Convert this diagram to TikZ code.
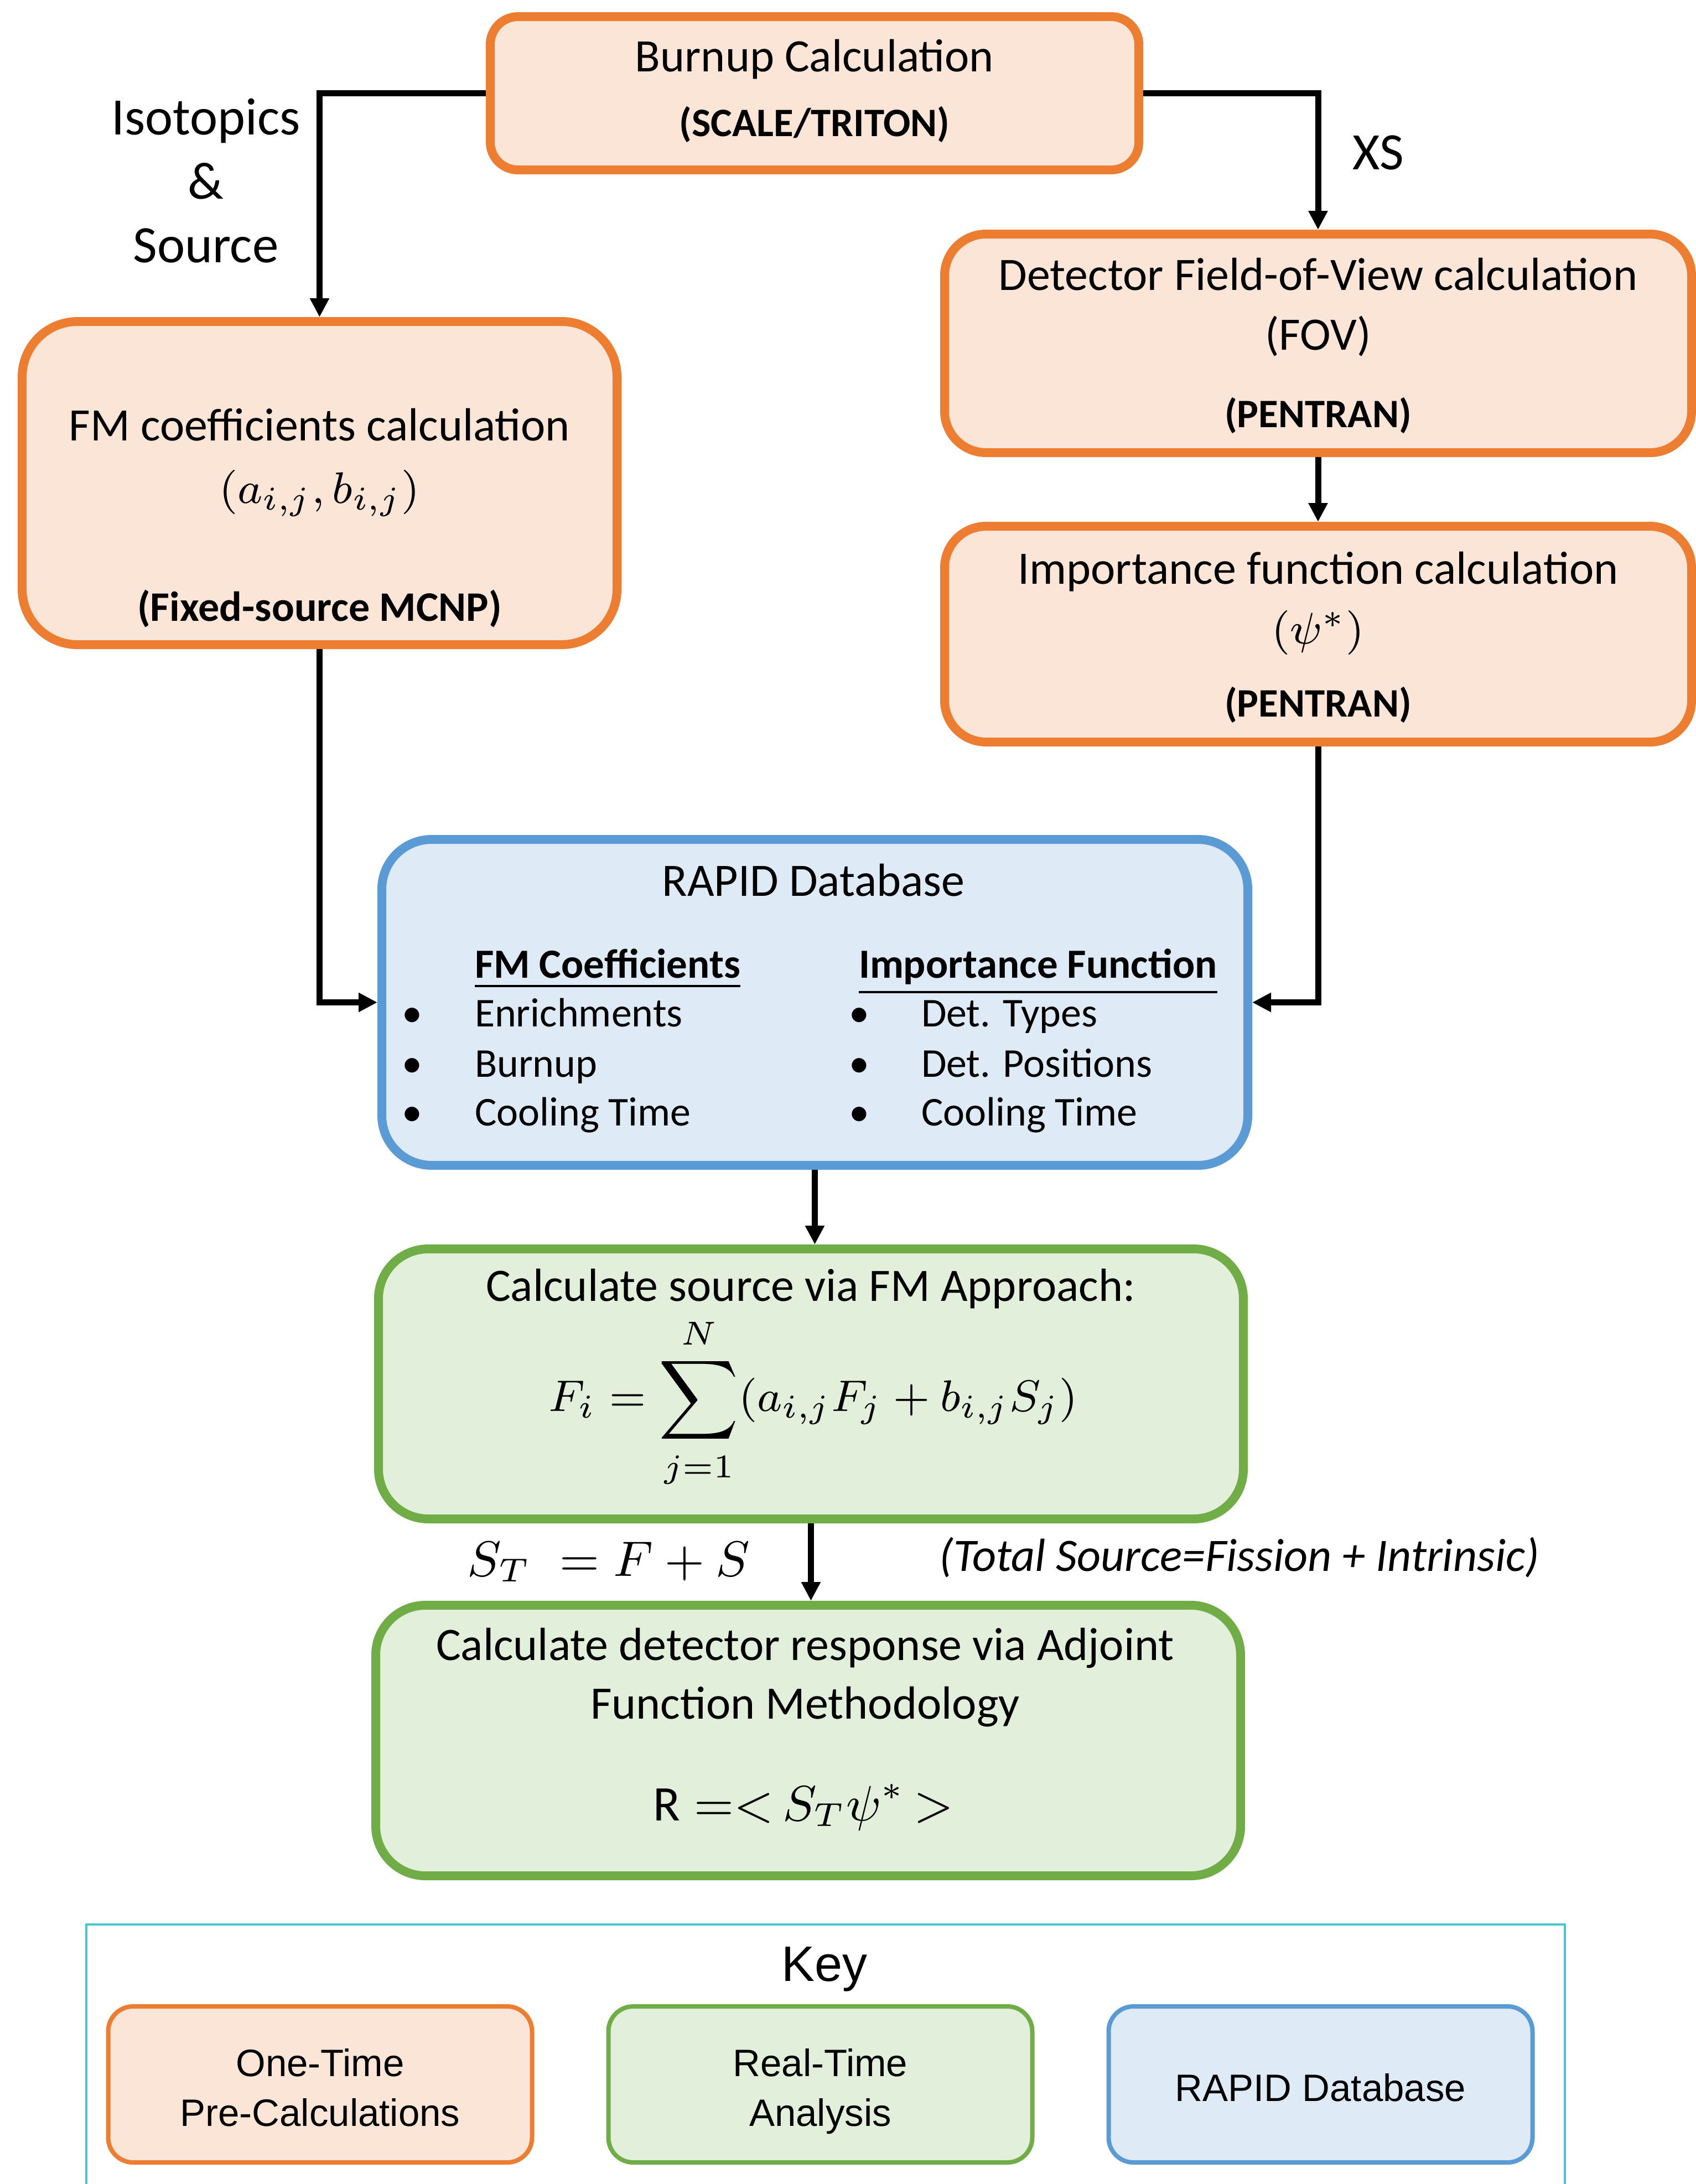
\documentclass[tikz,border=0pt]{standalone}
\usepackage{fontspec}
\setmainfont{Carlito}
\newfontfamily\keyfont{Liberation Sans}
\usetikzlibrary{arrows.meta}
\definecolor{orB}{HTML}{ED7D31}
\definecolor{orF}{HTML}{FBE5D6}
\definecolor{grB}{HTML}{70AD47}
\definecolor{grF}{HTML}{E2EFDA}
\definecolor{blB}{HTML}{5B9BD5}
\definecolor{blF}{HTML}{DEEBF7}
\definecolor{keyB}{HTML}{4BC6D0}
\begin{document}
\begin{tikzpicture}[x=1pt,y=-1pt,
  box/.style={draw, line width=1.6pt, inner sep=0pt},
  obox/.style={box, draw=orB, fill=orF},
  gbox/.style={box, draw=grB, fill=grF},
  bbox/.style={box, draw=blB, fill=blF},
  kbox/.style={draw, line width=0.8pt, inner sep=0pt, rounded corners=4.5pt, minimum width=76.6pt, minimum height=28.2pt},
  txt/.style={inner sep=0pt, anchor=base, font=\fontsize{8.4}{10}\selectfont},
  stxt/.style={inner sep=0pt, anchor=base west, font=\fontsize{7.4}{9}\selectfont},
  dot/.style={inner sep=0pt, anchor=base, font=\fontsize{7.4}{9}\selectfont},
  btxt/.style={inner sep=0pt, anchor=base, font=\fontsize{7.3}{9}\selectfont\bfseries},
  ltxt/.style={inner sep=0pt, anchor=base, font=\fontsize{9.5}{11}\selectfont},
  ktxt/.style={inner sep=0pt, anchor=base, font=\fontsize{6.9}{8}\keyfont},
  conn/.style={line width=1.1pt, -{Triangle[length=3.4pt,width=3.3pt]}}
]
\clip (0,0) rectangle (306.5,394.7);
\useasboundingbox (0,0) rectangle (306.5,394.7);

% boxes
\node[obox, rounded corners=5pt, minimum width=117.2pt, minimum height=27.7pt] (burn) at (147.2,16.85) {};
\node[obox, rounded corners=7.5pt, minimum width=135.0pt, minimum height=39.5pt] (fov) at (238.2,62.05) {};
\node[obox, rounded corners=7.5pt, minimum width=135.0pt, minimum height=39.0pt] (imp) at (238.2,114.6) {};
\node[obox, rounded corners=10pt, minimum width=107.5pt, minimum height=58.4pt] (fm) at (57.75,87.3) {};
\node[bbox, rounded corners=9pt, minimum width=156.5pt, minimum height=58.9pt] (rapid) at (147.25,181.15) {};
\node[gbox, rounded corners=9pt, minimum width=156.3pt, minimum height=48.8pt] (calc) at (146.55,250.1) {};
\node[gbox, rounded corners=9pt, minimum width=156.3pt, minimum height=48.9pt] (det) at (146.05,314.55) {};

% texts in boxes
\node[txt] (t1) at (147.2,12.9) {Burnup Calculation};
\node[btxt] (t2) at (147.2,24.6) {(SCALE/TRITON)};
\node[txt] (t3) at (238.2,52.4) {Detector Field-of-View calculation};
\node[txt] (t4) at (238.2,63.2) {(FOV)};
\node[btxt] (t5) at (238.2,77.2) {(PENTRAN)};
\node[txt] (t6) at (238.2,105.5) {Importance function calculation};
\node[txt] (t7) at (238.2,116.3) {$(\psi^{*})$};
\node[btxt] (t8) at (238.2,129.5) {(PENTRAN)};
\node[txt] (t9) at (57.75,79.6) {FM coefficients calculation};
\node[txt, font=\fontsize{8}{10}\selectfont] (t10) at (57.75,90.9) {$(a_{i,j},b_{i,j})$};
\node[btxt, font=\fontsize{7.6}{9}\selectfont\bfseries] (t11) at (57.75,112.2) {(Fixed-source MCNP)};

% RAPID contents
\node[txt] (r0) at (147.0,161.9) {RAPID Database};
\node[stxt, font=\fontsize{7.5}{9}\selectfont\bfseries] (rh1) at (85.6,176.7) {\underline{FM Coefficients}};
\node[stxt, font=\fontsize{7.5}{9}\selectfont\bfseries] (rh2) at (155.0,176.7) {\underline{Importance Function}};
\node[dot] (b1) at (74.5,185.5) {•};
\node[dot] (b2) at (74.5,194.6) {•};
\node[dot] (b3) at (74.5,203.4) {•};
\node[dot] (b4) at (155.3,185.5) {•};
\node[dot] (b5) at (155.3,194.6) {•};
\node[dot] (b6) at (155.3,203.4) {•};
\node[stxt] (i1) at (85.6,185.5) {Enrichments};
\node[stxt] (i2) at (85.6,194.6) {Burnup};
\node[stxt] (i3) at (85.6,203.4) {Cooling Time};
\node[stxt] (i4) at (166.3,185.5) {Det. Types};
\node[stxt] (i5) at (166.3,194.6) {Det. Positions};
\node[stxt] (i6) at (166.3,203.4) {Cooling Time};

% calc contents
\node[txt] (c1) at (146.5,235.1) {Calculate source via FM Approach:};
\node[inner sep=0pt, font=\fontsize{7.9}{10}\selectfont] (c2) at (147.0,253.6) {$\displaystyle F_i=\sum_{j=1}^{N}(a_{i,j}F_j+b_{i,j}S_j)$};

% det contents
\node[txt] (d1) at (145.5,300.0) {Calculate detector response via Adjoint};
\node[txt] (d2) at (145.5,310.6) {Function Methodology};
\node[inner sep=0pt, font=\fontsize{9}{11}\selectfont] (d3) at (145.2,326.6) {$\mathrm{R}\;{=}{<}\,S_T\psi^{*}\,{>}$};

% side labels
\node[ltxt] (l1) at (37.2,24.3) {Isotopics};
\node[ltxt] (l2) at (37.2,35.9) {\&};
\node[ltxt] (l3) at (37.2,47.4) {Source};
\node[ltxt] (l4) at (249.1,30.6) {XS};
\node[inner sep=0pt, font=\fontsize{9}{11}\selectfont] (st) at (110.0,282.3) {$S_T\;=F+S$};
\node[txt, font=\fontsize{8.4}{10}\selectfont\itshape] (tot) at (224.0,283.9) {(Total Source=Fission + Intrinsic)};

% connectors
\draw[conn] (burn.west) -| (fm.north);
\draw[conn] (burn.east) -| (fov.north);
\draw[conn] (fov.south) -- (imp.north);
\draw[conn] (fm.south) |- (rapid.west);
\draw[conn] (imp.south) |- (rapid.east);
\draw[conn] (rapid.south) -- (rapid.south |- calc.north);
\draw[conn] (calc.south) -- (calc.south |- det.north);

% key
\draw[keyB, line width=0.35pt] (15.6,347.8) rectangle (282.8,400);
\node[inner sep=0pt, anchor=base, font=\fontsize{9}{11}\keyfont] (key) at (149.0,358.0) {Key};
\node[kbox, draw=orB, fill=orF] (k1) at (57.85,376.7) {};
\node[kbox, draw=grB, fill=grF] (k2) at (148.25,376.7) {};
\node[kbox, draw=blB, fill=blF] (k3) at (238.65,376.7) {};
\node[ktxt] (k1a) at (57.85,375.2) {One-Time};
\node[ktxt] (k1b) at (57.85,384.2) {Pre-Calculations};
\node[ktxt] (k2a) at (148.25,375.2) {Real-Time};
\node[ktxt] (k2b) at (148.25,384.2) {Analysis};
\node[ktxt] (k3a) at (238.65,379.7) {RAPID Database};
\end{tikzpicture}
\end{document}
